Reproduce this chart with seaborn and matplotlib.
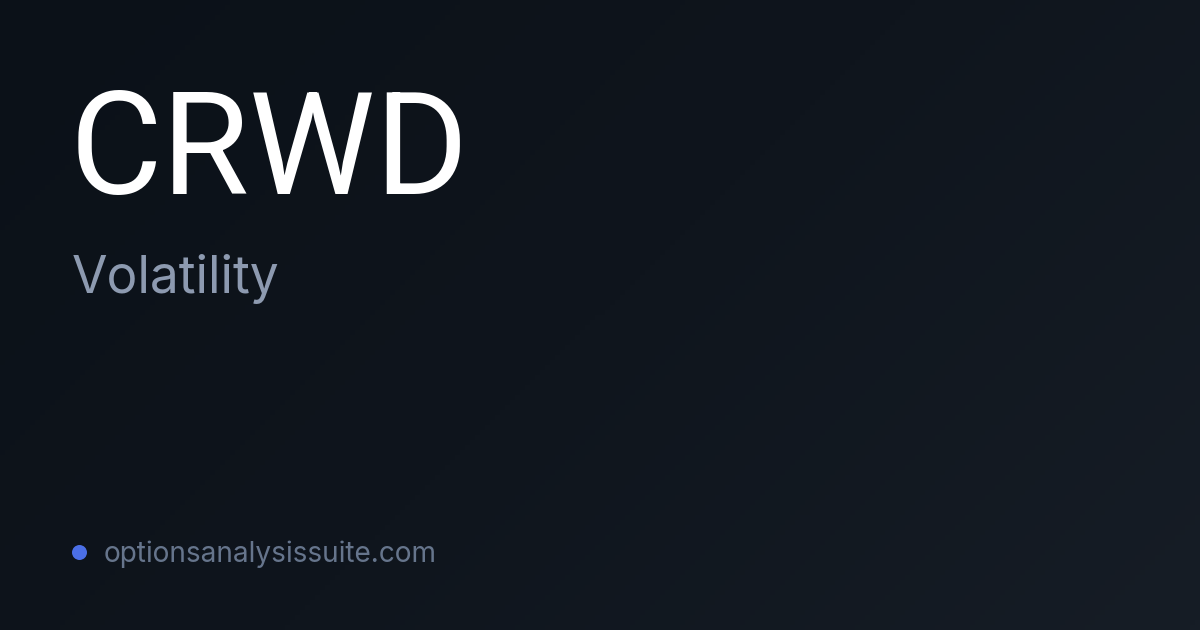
import numpy as np
import matplotlib
matplotlib.use("Agg")
import matplotlib.pyplot as plt
import seaborn as sns
from matplotlib.colors import LinearSegmentedColormap

# card content
ticker = "CRWD"
subtitle = "Volatility"
site = "optionsanalysissuite.com"

bg_start = "#0b1118"
bg_end = "#161d26"

sns.set_theme(style="dark")
plt.rcParams["font.family"] = ["Roboto", "DejaVu Sans"]

fig = plt.figure(figsize=(12, 6.3), dpi=100)
ax = fig.add_axes([0, 0, 1, 1])
ax.set_xlim(0, 1200)
ax.set_ylim(630, 0)
ax.axis("off")

# diagonal gradient background
xx, yy = np.meshgrid(np.linspace(0, 1, 240), np.linspace(0, 1, 126))
grad = (xx * 1200 + yy * 630) / (1200 + 630)
cmap = LinearSegmentedColormap.from_list("bg", [bg_start, "#0f151d", bg_end])
ax.imshow(grad, cmap=cmap, extent=[0, 1200, 630, 0], aspect="auto", zorder=0)

px = 72 / 100  # pixels -> points

ax.text(70, 194, ticker, color="white", fontsize=142 * px,
        ha="left", va="baseline", family=["Roboto", "DejaVu Sans"])
ax.text(72, 293, subtitle, color="#8d9ab0", fontsize=51.5 * px,
        ha="left", va="baseline", family=["Inter", "DejaVu Sans"])

# small accent dot and site name
ax.scatter([79], [552], s=(15 * px) ** 2, color="#4b6fe6", zorder=3, linewidths=0)
ax.text(104, 562, site, color="#66758c", fontsize=28 * px,
        ha="left", va="baseline", family=["Inter", "DejaVu Sans"])

fig.savefig("out.png", dpi=100, facecolor=bg_start)
